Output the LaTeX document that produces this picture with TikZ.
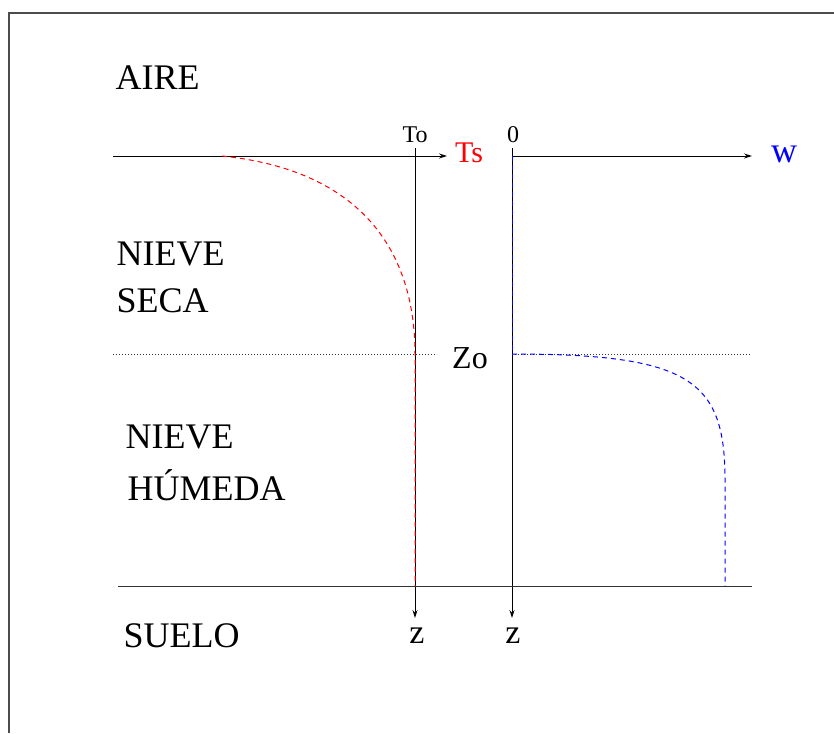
\documentclass[tikz,border=0pt]{standalone}
\usepackage{fontspec}
\setmainfont{Liberation Serif}
\usetikzlibrary{arrows.meta}

\begin{document}
\begin{tikzpicture}[
  x=1pt, y=-1pt,
  ax/.style={line width=1pt, -{Stealth[length=8pt,width=5pt]}},
  capa/.style={anchor=base west, font=\fontsize{36}{40}\selectfont},
  eti/.style={anchor=base, font=\fontsize{24}{26}\selectfont},
  etig/.style={anchor=base, font=\fontsize{32}{34}\selectfont},
  perfil/.style={dash pattern=on 5pt off 4pt, line width=1pt},
  nivel/.style={dotted, line width=1pt, black!80}
]
\useasboundingbox (0,0) rectangle (834,733);
\draw[line width=1.5pt, black!70] (9,733) -- (9,13) -- (834,13);

% ejes
\coordinate (ti) at (113,156);
\coordinate (tf) at (447,156);
\coordinate (t0) at (415,148);
\coordinate (tz) at (415,618);
\coordinate (w0) at (512,148);
\coordinate (wa) at (512,156);
\coordinate (wf) at (752,156);
\coordinate (wz) at (512,618);
\coordinate (za) at (113,354);
\coordinate (zb) at (437,354);
\coordinate (zc) at (512,354);
\coordinate (zd) at (750,354);
\coordinate (sa) at (118,586);
\coordinate (sb) at (752,586);
\coordinate (ts0) at (222,156);
\coordinate (tsz) at (415,354);
\coordinate (tss) at (415,586);
\coordinate (wc) at (725,480);
\coordinate (ws) at (725,586);

\draw[ax] (ti) -- (tf);
\draw[ax] (t0) -- (tz);
\draw[ax] (wa) -- (wf);
\draw[ax] (w0) -- (wz);
\draw[nivel] (za) -- (zb);
\draw[nivel] (zc) -- (zd);
\draw[line width=1pt, black!80] (sa) -- (sb);

% perfiles
\draw[perfil, red] (ts0) .. controls (360,170) and (415,250) .. (tsz) -- (tss);
\draw[perfil, blue] (wa) -- (zc);
\draw[perfil, blue] (zc) .. controls (690,354) and (725,380) .. (wc) -- (ws);

% textos
\node[capa] (aire) at (112,90) {AIRE};
\node[capa] (seca1) at (113,265) {NIEVE};
\node[capa] (seca2) at (113,312) {SECA};
\node[capa] (hum1) at (122,448) {NIEVE};
\node[capa] (hum2) at (124,500) {HÚMEDA};
\node[capa] (suelo) at (120,647) {SUELO};

\node[eti] (lto) at (415,142) {To};
\node[eti] (lcero) at (513,142) {0};
\node[etig, red, font=\fontsize{30}{32}\selectfont] (lts) at (469,162) {Ts};
\node[etig, blue, font=\fontsize{36}{38}\selectfont] (lw) at (784,162) {w};
\node[etig] (lzo) at (470,368) {Zo};
\node[etig, font=\fontsize{34}{36}\selectfont] (lz1) at (417,643) {z};
\node[etig, font=\fontsize{34}{36}\selectfont] (lz2) at (513,643) {z};
\end{tikzpicture}
\end{document}
